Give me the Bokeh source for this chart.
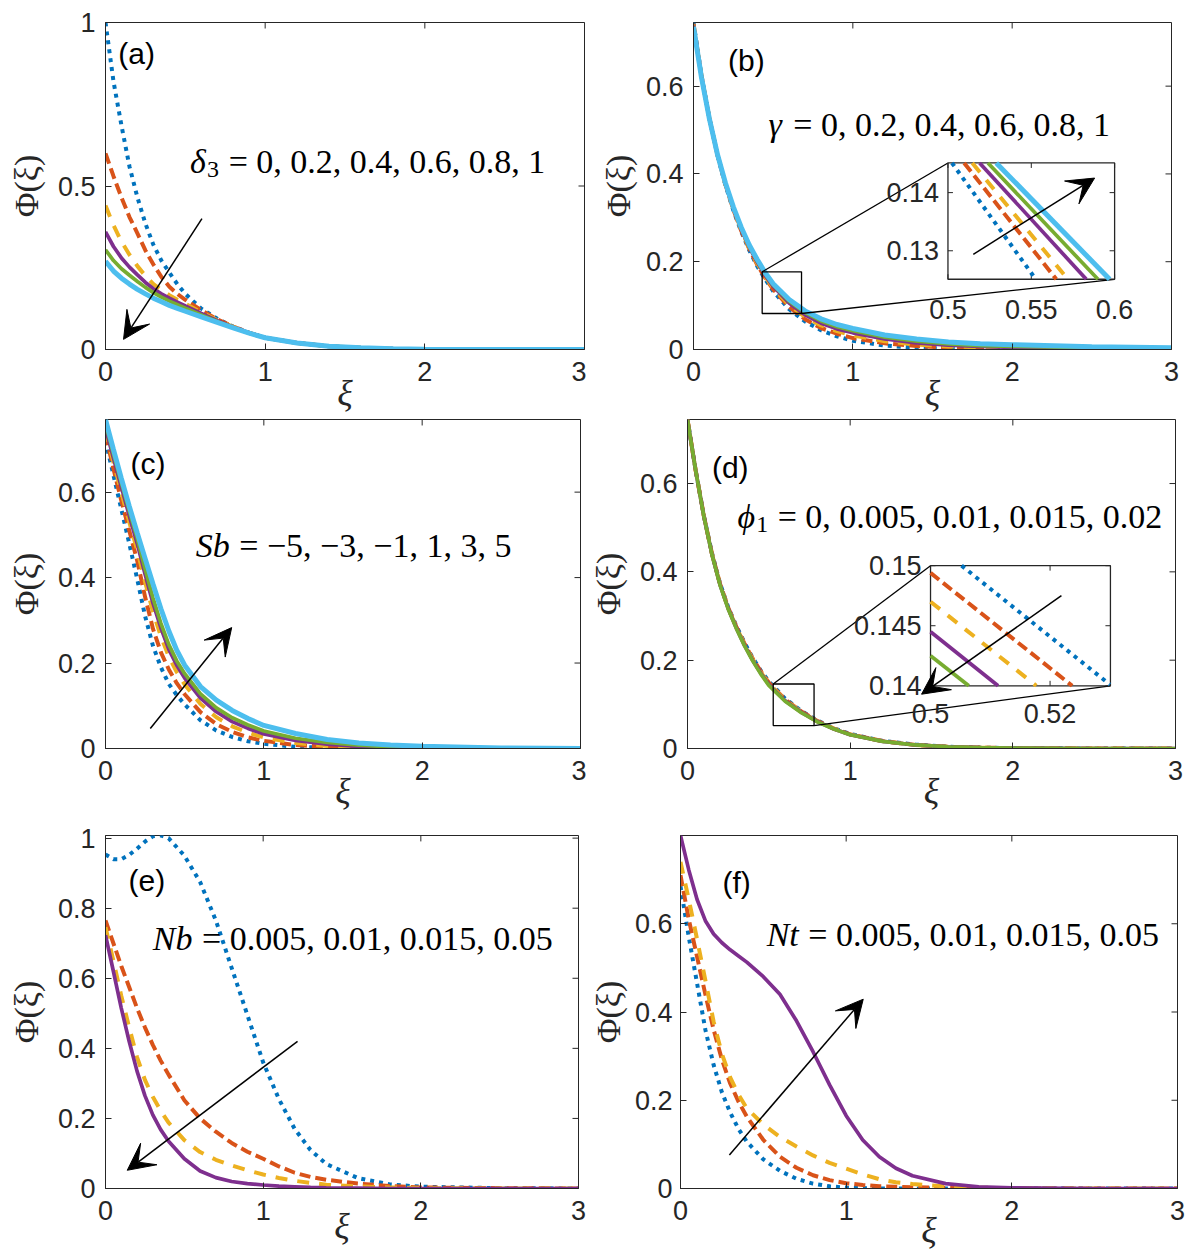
from bokeh.plotting import figure
from bokeh.models import Range1d, FixedTicker, Arrow, VeeHead
from bokeh.layouts import column, row
from bokeh.embed import file_html
from bokeh.resources import INLINE
from bokeh.core.properties import value

# ---------------------------------------------------------------- data
XI = [0, 0.05, 0.1, 0.15, 0.2, 0.25, 0.3, 0.35, 0.4, 0.45, 0.5, 0.6, 0.7, 0.8, 0.9, 1.0,
      1.2, 1.4, 1.6, 1.8, 2.0, 2.5, 3.0]
XI_EF = [0, 0.05, 0.1, 0.15, 0.2, 0.25, 0.3, 0.35, 0.4, 0.5, 0.6, 0.7, 0.8, 0.9, 1.0,
         1.1, 1.2, 1.3, 1.4, 1.6, 1.8, 2.0, 2.5, 3.0]

XTICKS = [0, 1, 2, 3]
XTICK_LABELS = ["0", "1", "2", "3"]

# (a) delta_3 = 0, 0.2, 0.4, 0.6, 0.8, 1
a_delta_0 = [1.0, 0.82, 0.685, 0.56, 0.465, 0.385, 0.32, 0.272, 0.235, 0.2, 0.17, 0.125, 0.094, 0.07, 0.051, 0.036,
             0.02, 0.01, 0.005, 0.002, 0.001, 0, 0]
a_delta_02 = [0.6, 0.53, 0.465, 0.405, 0.355, 0.303, 0.26, 0.222, 0.192, 0.17, 0.152, 0.12, 0.092, 0.07, 0.051, 0.036,
              0.02, 0.01, 0.005, 0.002, 0.001, 0, 0]
a_delta_04 = [0.44, 0.38, 0.33, 0.29, 0.255, 0.225, 0.2, 0.182, 0.166, 0.152, 0.14, 0.114, 0.09, 0.069, 0.051, 0.036,
              0.02, 0.01, 0.005, 0.002, 0.001, 0, 0]
a_delta_06 = [0.36, 0.315, 0.28, 0.252, 0.228, 0.205, 0.186, 0.17, 0.157, 0.145, 0.133, 0.11, 0.088, 0.068, 0.051, 0.036,
              0.02, 0.01, 0.005, 0.002, 0.001, 0, 0]
a_delta_08 = [0.305, 0.272, 0.247, 0.227, 0.208, 0.19, 0.174, 0.16, 0.148, 0.137, 0.126, 0.106, 0.086, 0.067, 0.05, 0.036,
              0.02, 0.01, 0.005, 0.002, 0.001, 0, 0]
a_delta_1 = [0.27, 0.24, 0.218, 0.2, 0.184, 0.17, 0.157, 0.146, 0.135, 0.126, 0.117, 0.1, 0.083, 0.066, 0.05, 0.036,
             0.02, 0.01, 0.005, 0.002, 0.001, 0, 0]
A_YTICKS = [0, 0.5, 1]
A_YLABELS = ["0", "0.5", "1"]

# (b) gamma = 0, 0.2, 0.4, 0.6, 0.8, 1
b_gamma_0 = [0.745, 0.625, 0.526, 0.443, 0.375, 0.317, 0.268, 0.226, 0.19, 0.16, 0.133, 0.092, 0.064, 0.044, 0.03, 0.02,
             0.009, 0.004, 0.002, 0.001, 0, 0, 0]
b_gamma_02 = [0.742, 0.624, 0.526, 0.444, 0.376, 0.319, 0.27, 0.229, 0.193, 0.163, 0.137, 0.097, 0.069, 0.049, 0.036, 0.026,
              0.014, 0.008, 0.004, 0.002, 0.001, 0, 0]
b_gamma_04 = [0.74, 0.623, 0.526, 0.445, 0.377, 0.321, 0.272, 0.231, 0.196, 0.166, 0.14, 0.102, 0.074, 0.055, 0.042, 0.032,
              0.019, 0.011, 0.007, 0.005, 0.003, 0.001, 0]
b_gamma_06 = [0.738, 0.622, 0.526, 0.445, 0.378, 0.322, 0.274, 0.233, 0.199, 0.169, 0.144, 0.106, 0.079, 0.06, 0.047, 0.038,
              0.024, 0.015, 0.01, 0.007, 0.005, 0.002, 0.001]
b_gamma_08 = [0.735, 0.62, 0.525, 0.445, 0.379, 0.323, 0.276, 0.235, 0.202, 0.172, 0.147, 0.11, 0.084, 0.065, 0.052, 0.043,
              0.028, 0.019, 0.013, 0.009, 0.007, 0.004, 0.002]
b_gamma_1 = [0.735, 0.62, 0.525, 0.445, 0.38, 0.325, 0.278, 0.238, 0.205, 0.175, 0.15, 0.114, 0.088, 0.07, 0.057, 0.048,
             0.033, 0.024, 0.017, 0.013, 0.011, 0.006, 0.004]
B_YTICKS = [0, 0.2, 0.4, 0.6]
B_YLABELS = ["0", "0.2", "0.4", "0.6"]
# (b) inset: each curve enters at the top edge and leaves at the bottom edge
b_inset_phi = [0.1451, 0.1251]
b_inset_xi_gamma_0 = [0.5024, 0.5527]
b_inset_xi_gamma_02 = [0.5097, 0.565]
b_inset_xi_gamma_04 = [0.5146, 0.572]
b_inset_xi_gamma_06 = [0.519, 0.583]
b_inset_xi_gamma_08 = [0.524, 0.590]
b_inset_xi_gamma_1 = [0.529, 0.597]
B_INSET_XTICKS = [0.5, 0.55, 0.6]
B_INSET_XLABELS = ["0.5", "0.55", "0.6"]
B_INSET_YTICKS = [0.13, 0.14]
B_INSET_YLABELS = ["0.13", "0.14"]

# (c) Sb = -5, -3, -1, 1, 3, 5
c_sb_m5 = [0.72, 0.64, 0.56, 0.48, 0.397, 0.31, 0.24, 0.19, 0.151, 0.125, 0.103, 0.066, 0.042, 0.027, 0.017, 0.011,
           0.004, 0.002, 0.001, 0, 0, 0, 0]
c_sb_m3 = [0.735, 0.655, 0.58, 0.51, 0.44, 0.355, 0.28, 0.225, 0.185, 0.153, 0.127, 0.085, 0.057, 0.039, 0.026, 0.018,
           0.008, 0.004, 0.002, 0.001, 0, 0, 0]
c_sb_m1 = [0.745, 0.67, 0.6, 0.53, 0.465, 0.39, 0.32, 0.262, 0.215, 0.179, 0.15, 0.104, 0.073, 0.052, 0.037, 0.026,
           0.013, 0.006, 0.003, 0.002, 0.001, 0, 0]
c_sb_p1 = [0.75, 0.68, 0.612, 0.545, 0.48, 0.408, 0.34, 0.282, 0.232, 0.195, 0.165, 0.118, 0.086, 0.063, 0.047, 0.034,
           0.019, 0.01, 0.005, 0.003, 0.001, 0, 0]
c_sb_p3 = [0.76, 0.69, 0.622, 0.556, 0.492, 0.42, 0.352, 0.293, 0.243, 0.205, 0.175, 0.128, 0.095, 0.072, 0.055, 0.041,
           0.024, 0.014, 0.008, 0.004, 0.002, 0, 0]
c_sb_p5 = [0.77, 0.70, 0.632, 0.567, 0.505, 0.445, 0.385, 0.327, 0.275, 0.23, 0.195, 0.145, 0.113, 0.089, 0.07, 0.054,
           0.035, 0.021, 0.013, 0.008, 0.005, 0.001, 0]
C_YTICKS = [0, 0.2, 0.4, 0.6]
C_YLABELS = ["0", "0.2", "0.4", "0.6"]

# (d) phi_1 = 0, 0.005, 0.01, 0.015, 0.02
d_phi_0 = [0.745, 0.63, 0.528, 0.443, 0.374, 0.32, 0.278, 0.24, 0.206, 0.177, 0.152, 0.113, 0.085, 0.063, 0.046, 0.033,
           0.017, 0.009, 0.004, 0.002, 0.001, 0, 0]
d_phi_0005 = [0.745, 0.63, 0.528, 0.442, 0.373, 0.319, 0.276, 0.238, 0.204, 0.175, 0.149, 0.111, 0.084, 0.062, 0.045, 0.032,
              0.017, 0.008, 0.004, 0.002, 0.001, 0, 0]
d_phi_001 = [0.745, 0.63, 0.527, 0.441, 0.372, 0.318, 0.275, 0.236, 0.202, 0.173, 0.147, 0.11, 0.083, 0.061, 0.045, 0.032,
             0.016, 0.008, 0.004, 0.002, 0.001, 0, 0]
d_phi_0015 = [0.745, 0.63, 0.527, 0.44, 0.371, 0.317, 0.273, 0.234, 0.2, 0.171, 0.145, 0.108, 0.082, 0.061, 0.044, 0.031,
              0.016, 0.008, 0.004, 0.002, 0.001, 0, 0]
d_phi_002 = [0.745, 0.63, 0.527, 0.44, 0.37, 0.316, 0.272, 0.233, 0.199, 0.169, 0.143, 0.107, 0.081, 0.06, 0.044, 0.031,
             0.016, 0.008, 0.004, 0.002, 0.001, 0, 0]
D_YTICKS = [0, 0.2, 0.4, 0.6]
D_YLABELS = ["0", "0.2", "0.4", "0.6"]
# (d) inset: (xi, Phi) end points of each curve inside the zoom window
d_inset_xi_phi_0 = [0.5052, 0.53]
d_inset_y_phi_0 = [0.15, 0.1401]
d_inset_xi_phi_0005 = [0.5, 0.5237]
d_inset_y_phi_0005 = [0.1494, 0.14]
d_inset_xi_phi_001 = [0.5, 0.5177]
d_inset_y_phi_001 = [0.147, 0.14]
d_inset_xi_phi_0015 = [0.5, 0.5113]
d_inset_y_phi_0015 = [0.1445, 0.14]
d_inset_xi_phi_002 = [0.5, 0.5064]
d_inset_y_phi_002 = [0.1425, 0.14]
D_INSET_XTICKS = [0.5, 0.52]
D_INSET_XLABELS = ["0.5", "0.52"]
D_INSET_YTICKS = [0.14, 0.145, 0.15]
D_INSET_YLABELS = ["0.14", "0.145", "0.15"]

# (e) Nb = 0.005, 0.01, 0.015, 0.05
e_nb_0005 = [0.953, 0.94, 0.94, 0.952, 0.97, 0.99, 1.005, 1.008, 1.0, 0.95, 0.875, 0.765, 0.63, 0.495, 0.36,
             0.255, 0.17, 0.11, 0.07, 0.03, 0.012, 0.005, 0.001, 0]
e_nb_001 = [0.765, 0.70, 0.635, 0.575, 0.515, 0.46, 0.41, 0.365, 0.325, 0.252, 0.2, 0.162, 0.13, 0.105, 0.085,
            0.063, 0.045, 0.033, 0.025, 0.014, 0.007, 0.003, 0.001, 0]
e_nb_0015 = [0.746, 0.65, 0.55, 0.46, 0.375, 0.31, 0.262, 0.222, 0.188, 0.138, 0.104, 0.082, 0.066, 0.052, 0.04,
             0.03, 0.022, 0.016, 0.011, 0.006, 0.003, 0.001, 0, 0]
e_nb_005 = [0.723, 0.62, 0.515, 0.42, 0.335, 0.265, 0.21, 0.168, 0.135, 0.085, 0.05, 0.031, 0.02, 0.014, 0.01,
            0.007, 0.005, 0.003, 0.002, 0.001, 0, 0, 0, 0]
E_YTICKS = [0, 0.2, 0.4, 0.6, 0.8, 1]
E_YLABELS = ["0", "0.2", "0.4", "0.6", "0.8", "1"]

# (f) Nt = 0.005, 0.01, 0.015, 0.05
f_nt_0005 = [0.685, 0.57, 0.465, 0.36, 0.28, 0.218, 0.172, 0.135, 0.106, 0.066, 0.04, 0.022, 0.011, 0.005, 0.002,
             0.001, 0, 0, 0, 0, 0, 0, 0, 0]
f_nt_001 = [0.71, 0.61, 0.525, 0.44, 0.36, 0.292, 0.238, 0.197, 0.163, 0.11, 0.072, 0.047, 0.03, 0.019, 0.012,
            0.008, 0.005, 0.004, 0.003, 0.001, 0, 0, 0, 0]
f_nt_0015 = [0.74, 0.655, 0.565, 0.472, 0.378, 0.305, 0.252, 0.213, 0.182, 0.145, 0.117, 0.095, 0.075, 0.058, 0.045,
             0.032, 0.021, 0.014, 0.01, 0.005, 0.002, 0.001, 0, 0]
f_nt_005 = [0.80, 0.722, 0.655, 0.607, 0.577, 0.557, 0.541, 0.527, 0.513, 0.48, 0.44, 0.38, 0.31, 0.235, 0.165,
            0.11, 0.072, 0.046, 0.029, 0.011, 0.004, 0.0015, 0, 0]
F_YTICKS = [0, 0.2, 0.4, 0.6]
F_YLABELS = ["0", "0.2", "0.4", "0.6"]

# ---------------------------------------------------------------- style
FONT_SANS = "Liberation Sans"
FONT_SERIF = "Liberation Serif"
AX = "#262626"
COLORS = ["#0072BD", "#D95319", "#EDB120", "#7E2F8E", "#77AC30", "#4DBEEE"]
STYLES = [dict(line_dash="4 5", line_width=4),
          dict(line_dash="11 5", line_width=4),
          dict(line_dash="12 10", line_width=4),
          dict(line_width=3.7),
          dict(line_width=3.7),
          dict(line_width=5)]

CHAR_W = {".": 0.25, ",": 0.25, " ": 0.25, "=": 0.564, "\u2212": 0.564,
          "S": 0.5, "b": 0.5, "N": 0.667, "t": 0.278,
          "\u03b4": 0.5, "\u03b3": 0.45, "\u03d5": 0.55}

FRAME = {}
TICK_PX = 6
TEXT_DY = -9


def twidth(s, size):
    return sum(CHAR_W.get(c, 0.5) for c in s) * size


def style_axis(ax, ticks, labels, standoff):
    ax.ticker = FixedTicker(ticks=list(ticks))
    ax.major_label_overrides = {t: l for t, l in zip(ticks, labels)}
    ax.minor_tick_line_color = None
    ax.major_tick_in = TICK_PX
    ax.major_tick_out = 0
    ax.major_tick_line_color = AX
    ax.major_tick_line_width = 1
    ax.axis_line_color = AX
    ax.axis_line_width = 1
    ax.major_label_text_font = FONT_SANS
    ax.major_label_text_font_size = "27px"
    ax.major_label_text_color = AX
    ax.major_label_standoff = standoff


def make_panel(w, h, bl, br, bt, bb, ylim, yticks, ylabels, xl_standoff, yl_standoff, ytick_standoff=10):
    p = figure(width=w, height=h, x_range=Range1d(0, 3), y_range=Range1d(*ylim),
               output_backend="svg", toolbar_location=None,
               min_border_left=bl, min_border_right=br, min_border_top=bt, min_border_bottom=bb)
    p.grid.visible = False
    p.outline_line_color = AX
    p.outline_line_width = 1
    p.background_fill_color = "white"
    p.border_fill_color = "white"
    style_axis(p.xaxis[0], XTICKS, XTICK_LABELS, 12)
    style_axis(p.yaxis[0], yticks, ylabels, ytick_standoff)
    p.xaxis[0].axis_label = "\u03be"
    p.xaxis[0].axis_label_text_font = FONT_SERIF
    p.xaxis[0].axis_label_text_font_style = "italic"
    p.xaxis[0].axis_label_text_font_size = "36px"
    p.xaxis[0].axis_label_text_color = AX
    p.xaxis[0].axis_label_standoff = xl_standoff
    p.yaxis[0].axis_label = "\u03a6(\u03be)"
    p.yaxis[0].axis_label_text_font = FONT_SERIF
    p.yaxis[0].axis_label_text_font_style = "normal"
    p.yaxis[0].axis_label_text_font_size = "34px"
    p.yaxis[0].axis_label_text_color = AX
    p.yaxis[0].axis_label_standoff = yl_standoff
    fw, fh = w - bl - br, h - bt - bb
    FRAME[p.id] = (fw, fh)
    # inward ticks on the top and right edges of the box
    x0, x1 = p.x_range.start, p.x_range.end
    y0, y1 = p.y_range.start, p.y_range.end
    ty = TICK_PX * (y1 - y0) / fh
    tx = TICK_PX * (x1 - x0) / fw
    p.segment(x0=list(XTICKS), y0=[y1] * len(XTICKS), x1=list(XTICKS), y1=[y1 - ty] * len(XTICKS),
              line_color=AX, line_width=1)
    p.segment(x0=[x1] * len(yticks), y0=list(yticks), x1=[x1 - tx] * len(yticks), y1=list(yticks),
              line_color=AX, line_width=1)
    return p


def draw_curves(p, x, series, **kw):
    for y, color, st in zip(series, COLORS, STYLES):
        p.line(x, y, line_color=color, line_cap="butt", **st, **kw)


def math_text(p, x, y, parts):
    off = 0.0
    for txt, italic, size, dy in parts:
        lead = len(txt) - len(txt.lstrip(" "))
        off += lead * 0.28 * size
        body = txt.strip(" ")
        p.text(x=[x], y=[y], text=[body], x_offset=off, y_offset=dy + TEXT_DY,
               text_font=value(FONT_SERIF), text_font_style="italic" if italic else "normal",
               text_font_size=f"{size}px", text_color="black",
               text_align="left", text_baseline="alphabetic")
        off += twidth(body, size)


def panel_label(p, x, y, txt):
    p.text(x=[x], y=[y], text=[txt], text_font=value(FONT_SANS), text_font_size="30px",
           text_color="black", text_align="left", text_baseline="middle")


def arrow(p, x0, y0, x1, y1, **kw):
    p.add_layout(Arrow(end=VeeHead(size=27, fill_color="black", line_color="black", line_width=1),
                       x_start=x0, y_start=y0, x_end=x1, y_end=y1,
                       line_color="black", line_width=1.5, **kw))


def add_inset(p, box, ixlim, iylim, rect, xticks, xlabels, yticks, ylabels, xlab_dy):
    """box: inset frame in main data coords (x0, x1, y0, y1); rect: zoomed window in main coords."""
    fw, fh = FRAME[p.id]
    sx = (box[1] - box[0]) / (ixlim[1] - ixlim[0])
    sy = (box[3] - box[2]) / (iylim[1] - iylim[0])
    xr = (ixlim[0] - (box[0] - p.x_range.start) / sx, ixlim[0] + (p.x_range.end - box[0]) / sx)
    yr = (iylim[0] - (box[2] - p.y_range.start) / sy, iylim[0] + (p.y_range.end - box[2]) / sy)
    p.extra_x_ranges["ix"] = Range1d(*xr)
    p.extra_y_ranges["iy"] = Range1d(*yr)
    kw = dict(x_range_name="ix", y_range_name="iy")
    # zoom window and connector lines (main coordinates)
    p.quad(left=[rect[0]], right=[rect[1]], bottom=[rect[2]], top=[rect[3]],
           fill_color=None, line_color="black", line_width=1.3)
    p.segment(x0=[rect[0], rect[1]], y0=[rect[3], rect[2]], x1=[box[0], box[1]], y1=[box[3], box[2]],
              line_color="black", line_width=1.3)
    # inset frame
    p.quad(left=[ixlim[0]], right=[ixlim[1]], bottom=[iylim[0]], top=[iylim[1]],
           fill_color="white", line_color=AX, line_width=1.3, **kw)
    tlx = 5 * (xr[1] - xr[0]) / fw
    tly = 5 * (yr[1] - yr[0]) / fh
    xs0, ys0, xs1, ys1 = [], [], [], []
    for t in xticks:
        xs0 += [t, t]; xs1 += [t, t]
        ys0 += [iylim[0], iylim[1]]; ys1 += [iylim[0] + tly, iylim[1] - tly]
    for t in yticks:
        ys0 += [t, t]; ys1 += [t, t]
        xs0 += [ixlim[0], ixlim[1]]; xs1 += [ixlim[0] + tlx, ixlim[1] - tlx]
    p.segment(x0=xs0, y0=ys0, x1=xs1, y1=ys1, line_color=AX, line_width=1, **kw)
    p.text(x=list(xticks), y=[iylim[0]] * len(xticks), text=list(xlabels), y_offset=xlab_dy,
           text_font=value(FONT_SANS), text_font_size="27px", text_color=AX,
           text_align="center", text_baseline="middle", **kw)
    p.text(x=[ixlim[0]] * len(yticks), y=list(yticks), text=list(ylabels), x_offset=-9,
           text_font=value(FONT_SANS), text_font_size="27px", text_color=AX,
           text_align="right", text_baseline="middle", **kw)
    return kw


# ---------------------------------------------------------------- panel (a)
pa = make_panel(586, 415, 105, 2, 22, 66, (0, 1), A_YTICKS, A_YLABELS, -11, 10)
draw_curves(pa, XI, [a_delta_0, a_delta_02, a_delta_04, a_delta_06, a_delta_08, a_delta_1])
panel_label(pa, 0.08, 0.905, "(a)")
math_text(pa, 0.53, 0.547, [("\u03b4", True, 34, 0), ("3", False, 24, 8),
                            (" = 0, 0.2, 0.4, 0.6, 0.8, 1", False, 34, 0)])
arrow(pa, 0.604, 0.40, 0.113, 0.031)

# ---------------------------------------------------------------- panel (b)
pb = make_panel(600, 415, 107, 15, 22, 66, (0, 0.745), B_YTICKS, B_YLABELS, -11, 6)
draw_curves(pb, XI, [b_gamma_0, b_gamma_02, b_gamma_04, b_gamma_06, b_gamma_08, b_gamma_1])
panel_label(pb, 0.217, 0.658, "(b)")
math_text(pb, 0.47, 0.492, [("\u03b3", True, 34, 0), (" = 0, 0.2, 0.4, 0.6, 0.8, 1", False, 34, 0)])
kb = add_inset(pb, (1.597, 2.643, 0.16, 0.425), (0.5, 0.6), (0.1251, 0.1451),
               (0.431, 0.678, 0.082, 0.177), B_INSET_XTICKS, B_INSET_XLABELS,
               B_INSET_YTICKS, B_INSET_YLABELS, 30)
b_inset = [b_inset_xi_gamma_0, b_inset_xi_gamma_02, b_inset_xi_gamma_04,
           b_inset_xi_gamma_06, b_inset_xi_gamma_08, b_inset_xi_gamma_1]
for xs, color, st in zip(b_inset, COLORS, STYLES):
    pb.line(xs, b_inset_phi, line_color=color, line_cap="butt", **st, **kb)
arrow(pb, 0.5152, 0.1294, 0.588, 0.1425, **kb)

# ---------------------------------------------------------------- panel (c)
pc = make_panel(586, 403, 105, 6, 4, 69, (0, 0.77), C_YTICKS, C_YLABELS, -12, 10)
draw_curves(pc, XI, [c_sb_m5, c_sb_m3, c_sb_m1, c_sb_p1, c_sb_p3, c_sb_p5])
panel_label(pc, 0.158, 0.667, "(c)")
math_text(pc, 0.57, 0.453, [("Sb", True, 34, 0), (" = \u22125, \u22123, \u22121, 1, 3, 5", False, 34, 0)])
arrow(pc, 0.283, 0.047, 0.797, 0.283)

# ---------------------------------------------------------------- panel (d)
pd_ = make_panel(600, 403, 101, 11, 2, 70, (0, 0.745), D_YTICKS, D_YLABELS, -12, 10)
draw_curves(pd_, XI, [d_phi_0, d_phi_0005, d_phi_001, d_phi_0015, d_phi_002])
panel_label(pd_, 0.15, 0.637, "(d)")
math_text(pd_, 0.307, 0.506, [("\u03d5", True, 34, 0), ("1", False, 24, 8),
                              (" = 0, 0.005, 0.01, 0.015, 0.02", False, 34, 0)])
kd = add_inset(pd_, (1.494, 2.60, 0.142, 0.414), (0.5, 0.5301), (0.14, 0.15),
               (0.527, 0.778, 0.052, 0.146), D_INSET_XTICKS, D_INSET_XLABELS,
               D_INSET_YTICKS, D_INSET_YLABELS, 28)
d_inset = [(d_inset_xi_phi_0, d_inset_y_phi_0), (d_inset_xi_phi_0005, d_inset_y_phi_0005),
           (d_inset_xi_phi_001, d_inset_y_phi_001), (d_inset_xi_phi_0015, d_inset_y_phi_0015),
           (d_inset_xi_phi_002, d_inset_y_phi_002)]
for (xs, ys), color, st in zip(d_inset, COLORS, STYLES):
    pd_.line(xs, ys, line_color=color, line_cap="butt", **st, **kd)
arrow(pd_, 0.5219, 0.1475, 0.4985, 0.1393, **kd)

# ---------------------------------------------------------------- panel (e)
pe = make_panel(586, 434, 105, 8, 16, 60, (0, 1.0075), E_YTICKS, E_YLABELS, -17, 10)
draw_curves(pe, XI_EF, [e_nb_0005, e_nb_001, e_nb_0015, e_nb_005])
panel_label(pe, 0.146, 0.878, "(e)")
math_text(pe, 0.30, 0.687, [("Nb", True, 34, 0), (" = 0.005, 0.01, 0.015, 0.05", False, 34, 0)])
arrow(pe, 1.218, 0.42, 0.138, 0.052)

# ---------------------------------------------------------------- panel (f)
pf = make_panel(600, 434, 94, 9, 17, 64, (0, 0.80), F_YTICKS, F_YLABELS, -13, 5, ytick_standoff=8)
draw_curves(pf, XI_EF, [f_nt_0005, f_nt_001, f_nt_0015, f_nt_005])
panel_label(pf, 0.253, 0.693, "(f)")
math_text(pf, 0.52, 0.556, [("Nt", True, 34, 0), (" = 0.005, 0.01, 0.015, 0.05", False, 34, 0)])
arrow(pf, 0.295, 0.076, 1.103, 0.429)

layout = column(row(pa, pb), row(pc, pd_), row(pe, pf))
open("out.html", "w").write(file_html(layout, INLINE))
